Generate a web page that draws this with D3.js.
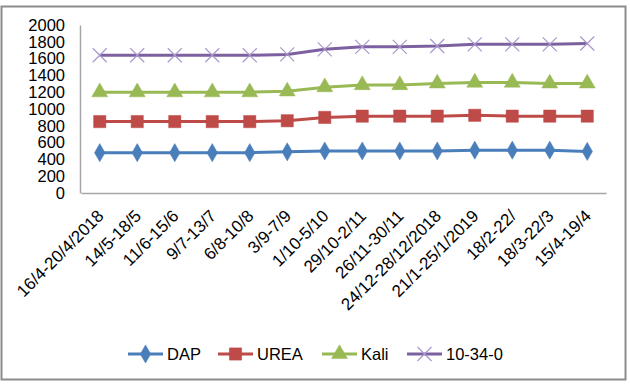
<!DOCTYPE html>
<html>
<head>
<meta charset="utf-8">
<script src="https://cdn.jsdelivr.net/npm/d3@7"></script>
<style>
  body { margin: 0; background: #fff; }
  svg { font-family: "Liberation Sans", Arial, sans-serif; }
</style>
</head>
<body>
<svg id="chart" width="630" height="384"></svg>
<script>
// data
const categories = ['16/4-20/4/2018', '14/5-18/5', '11/6-15/6', '9/7-13/7', '6/8-10/8', '3/9-7/9',
    '1/10-5/10', '29/10-2/11', '26/11-30/11', '24/12-28/12/2018', '21/1-25/1/2019', '18/2-22/',
    '18/3-22/3', '15/4-19/4'];
const dap = [480, 480, 480, 480, 480, 490, 500, 500, 500, 500, 510, 510, 510, 495];
const urea = [850, 850, 850, 850, 850, 860, 900, 915, 915, 915, 925, 915, 915, 915];
const kali = [1200, 1200, 1200, 1200, 1200, 1210, 1260, 1285, 1285, 1305, 1315, 1315, 1305, 1305];
const npk = [1640, 1640, 1640, 1640, 1640, 1650, 1710, 1740, 1740, 1750, 1770, 1770, 1770, 1780];
const yTicks = [0, 200, 400, 600, 800, 1000, 1200, 1400, 1600, 1800, 2000];

const series = [
    {name: 'DAP', values: dap, color: '#4a7ebb', marker: 'diamond'},
    {name: 'UREA', values: urea, color: '#be4b48', marker: 'square'},
    {name: 'Kali', values: kali, color: '#98b954', marker: 'triangle'},
    {name: '10-34-0', values: npk, color: '#7d60a0', marker: 'x'}
];

const svg = d3.select('#chart');
const margin = {top: 25, left: 81, right: 24, bottom: 191};
const width = 630, height = 384;

// outer frame
svg.append('rect')
    .attr('x', 1.5).attr('y', 6.5)
    .attr('width', 624).attr('height', 373)
    .attr('fill', 'none')
    .attr('stroke', '#8c8c8c')
    .attr('stroke-width', 2);

const xscale = d3.scaleBand().domain(categories).range([margin.left, width - margin.right]);
const yscale = d3.scaleLinear().domain([0, 2000]).range([height - margin.bottom, margin.top]);
const cx = d => xscale(d) + xscale.bandwidth() / 2;

// axes
const yaxis = d3.axisLeft(yscale).tickValues(yTicks).tickFormat(d3.format('d'))
    .tickSize(0).tickPadding(15);
const ygroup = svg.append('g').attr('transform', `translate(${margin.left - 1}, 0)`).call(yaxis);
ygroup.select('.domain').attr('stroke', '#a6a6a6').attr('stroke-width', 1.5);
ygroup.selectAll('text').attr('font-size', 16.5).attr('fill', '#000')
    .attr('font-family', '"Liberation Sans", Arial, sans-serif');

const xaxis = d3.axisBottom(xscale).tickSize(0).tickPadding(0);
const xgroup = svg.append('g').attr('transform', `translate(0, ${yscale(0)})`).call(xaxis);
xgroup.select('.domain').attr('stroke', '#a6a6a6').attr('stroke-width', 1.5);
xgroup.selectAll('text')
    .attr('font-size', 17).attr('fill', '#000')
    .attr('font-family', '"Liberation Sans", Arial, sans-serif')
    .attr('text-anchor', 'end')
    .attr('dy', 0)
    .attr('transform', 'translate(5, 24) rotate(-45)');

// lines
const line = d3.line().x((d, i) => cx(categories[i])).y(d => yscale(d));

const markerPath = {
    diamond: d3.symbol().type(d3.symbolDiamond).size(95),
    square: d3.symbol().type(d3.symbolSquare).size(150),
    triangle: d3.symbol().type(d3.symbolTriangle).size(110),
    x: d3.symbol().type(d3.symbolTimes).size(130)
};

function drawMarker(g, s, x, y) {
    const p = g.append('path')
        .attr('d', markerPath[s.marker]())
        .attr('transform', `translate(${x}, ${y})`);
    if (s.marker === 'x') {
        p.attr('fill', 'none').attr('stroke', '#a997cc').attr('stroke-width', 1.2);
    } else {
        p.attr('fill', s.color).attr('stroke', s.color).attr('stroke-width', 0.5);
    }
}

series.forEach(s => {
    const g = svg.append('g');
    g.append('path')
        .datum(s.values)
        .attr('d', line)
        .attr('fill', 'none')
        .attr('stroke', s.color)
        .attr('stroke-width', 3);
    s.values.forEach((v, i) => drawMarker(g, s, cx(categories[i]), yscale(v)));
});

// legend
const legendX = [128, 218, 322, 407];
const legendY = 354;
series.forEach((s, i) => {
    const g = svg.append('g').attr('transform', `translate(${legendX[i]}, ${legendY})`);
    g.append('line').attr('x1', 0).attr('x2', 35).attr('y1', 0).attr('y2', 0)
        .attr('stroke', s.color).attr('stroke-width', 3);
    drawMarker(g, s, 17.5, 0);
    g.append('text').attr('x', 39).attr('y', 0).attr('dy', '0.36em')
        .attr('font-size', 16.5).text(s.name);
});
</script>
</body>
</html>
